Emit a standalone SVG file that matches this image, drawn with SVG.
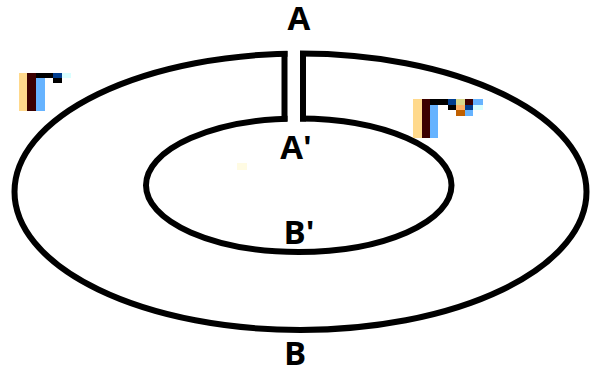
<svg xmlns="http://www.w3.org/2000/svg" width="590" height="375" viewBox="0 0 590 375">
  <style>
    .ring { fill: none; stroke: #000; stroke-width: 6; }
    .wall { stroke: #000; stroke-width: 6; stroke-linecap: square; }
    .lbl { font-family: "Open Sans", "Liberation Sans", sans-serif; font-weight: bold; font-size: 33px; fill: #000; text-anchor: middle; }
    .px rect { shape-rendering: crispEdges; }
  </style>
  <rect width="590" height="375" fill="#fff"/>

  <!-- Split ring: outer and inner ellipses, cut at the top and closed by two walls -->
  <g id="ring">
    <ellipse class="ring" cx="300.5" cy="191.75" rx="286" ry="138.25"/>
    <ellipse class="ring" cx="298.75" cy="185.25" rx="152.75" ry="66.75"/>
    <rect x="287.5" y="44" width="12.5" height="82" fill="#fff"/>
    <line class="wall" x1="284.5" y1="54" x2="284.5" y2="118.5"/>
    <line class="wall" x1="303" y1="54" x2="303" y2="118.5"/>
  </g>

  <!-- Point labels -->
  <g id="label-A"><text class="lbl" x="299" y="30">A</text></g>
  <g id="label-A-prime"><text class="lbl" x="296" y="159">A'</text></g>
  <g id="label-B-prime"><text class="lbl" x="299" y="244">B'</text></g>
  <g id="label-B"><text class="lbl" x="295" y="365">B</text></g>

  <!-- Coloured pixel marks -->
  <g id="mark-left" class="px">
    <rect x="19" y="73" width="8" height="38" fill="#ffd98c"/>
    <rect x="27" y="73" width="9" height="38" fill="#3c0000"/>
    <rect x="36" y="78" width="9" height="33" fill="#66b3ff"/>
    <rect x="36" y="73" width="17" height="5" fill="#000"/>
    <rect x="53" y="73" width="9" height="5" fill="#003d8f"/>
    <rect x="53" y="78" width="9" height="5" fill="#000"/>
    <rect x="62" y="73" width="9" height="5" fill="#d9ffff"/>
  </g>
  <g id="mark-right" class="px">
    <rect x="413" y="99" width="9" height="39" fill="#ffd98c"/>
    <rect x="422" y="99" width="8" height="39" fill="#3c0000"/>
    <rect x="430" y="105" width="8" height="33" fill="#66b3ff"/>
    <rect x="430" y="99" width="18" height="6" fill="#000"/>
    <rect x="448" y="99" width="8" height="6" fill="#003d8f"/>
    <rect x="448" y="105" width="8" height="5" fill="#000"/>
    <rect x="456" y="99" width="9" height="6" fill="#d9d98c"/>
    <rect x="465" y="99" width="8" height="6" fill="#3c0000"/>
    <rect x="473" y="99" width="10" height="6" fill="#66b3ff"/>
    <rect x="456" y="105" width="9" height="5" fill="#ffb366"/>
    <rect x="465" y="105" width="8" height="5" fill="#003d8f"/>
    <rect x="473" y="105" width="10" height="5" fill="#d9ffff"/>
    <rect x="456" y="110" width="9" height="6" fill="#c06000"/>
    <rect x="465" y="110" width="8" height="6" fill="#66b3ff"/>
  </g>
  <rect x="237" y="163" width="10" height="7" fill="#fffbe3"/>
</svg>
